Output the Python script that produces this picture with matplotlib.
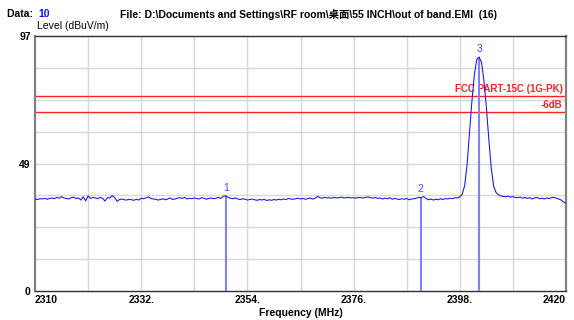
import numpy as np
import matplotlib
matplotlib.use("Agg")
import matplotlib.pyplot as plt

# ---- data ----
freq_start, freq_stop = 2310.0, 2420.0
level = [
    35.0, 34.8, 35.1, 35.0, 35.3, 34.9, 35.2, 35.4, 35.1, 35.6, 35.3, 35.9, 35.4, 35.2, 35.0, 35.5, 35.7, 35.2, 35.4, 34.6,
    35.8, 34.3, 36.2, 35.2, 35.6, 35.4, 35.1, 35.6, 35.3, 34.2, 35.5, 35.4, 36.3, 35.6, 34.1, 34.8, 35.0, 34.7, 34.6, 34.9,
    34.7, 34.5, 34.9, 34.6, 35.3, 35.1, 35.4, 35.8, 35.2, 35.0, 34.9, 34.6, 34.8, 35.1, 34.7, 35.0, 35.4, 34.8, 35.0, 35.3,
    35.5, 35.2, 35.6, 35.0, 35.3, 35.1, 35.4, 35.2, 35.0, 35.5, 35.3, 34.9, 35.2, 35.4, 35.1, 35.3, 35.6, 35.2, 36.0, 36.2,
    35.6, 35.3, 35.1, 35.4, 35.0, 34.8, 35.1, 34.9, 34.6, 34.8, 35.0, 34.7, 34.5, 34.8, 34.6, 34.9, 34.4, 34.7, 34.5, 34.8,
    34.6, 34.9, 34.7, 35.0, 34.8, 35.2, 35.0, 34.9, 35.1, 35.3, 35.0, 35.2, 34.9, 35.1, 35.4, 35.0, 35.2, 36.0, 35.5, 35.3,
    35.6, 35.4, 35.5, 35.3, 35.6, 35.4, 35.5, 35.7, 35.4, 35.5, 35.6, 35.4, 35.5, 35.3, 35.6, 35.5, 35.4, 35.6, 35.8, 35.5,
    35.3, 35.6, 35.2, 35.4, 35.0, 35.3, 35.1, 35.5, 34.9, 35.2, 35.0, 34.8, 35.1, 34.9, 35.2, 34.7, 35.0, 35.1, 35.3, 35.6,
    35.5, 35.9, 35.2, 34.7, 35.0, 34.6, 34.9, 34.7, 35.1, 34.8, 35.2, 35.0, 35.3, 35.1, 35.5, 35.4, 35.8, 36.8, 40.0, 48.0,
    60.0, 72.0, 82.0, 88.0, 89.0, 87.0, 80.0, 70.0, 58.0, 47.0, 40.0, 37.5, 36.6, 36.2, 36.0, 35.8, 36.1, 35.7, 35.9, 35.6,
    35.5, 35.7, 35.3, 35.6, 35.2, 35.5, 35.0, 35.4, 35.6, 35.1, 35.3, 35.0, 35.4, 35.2, 35.5, 35.6, 35.3, 35.0, 34.6, 33.8,
    33.4,
]
freq = np.linspace(freq_start, freq_stop, len(level))

marker_ids = ["1", "2", "3"]
marker_freq = [2349.6, 2389.9, 2402.0]
marker_level = [36.2, 35.7, 89.0]

limit_names = ["FCC PART-15C (1G-PK)", "-6dB"]
limit_levels = [74.0, 68.0]

xtick_vals = [2310, 2332, 2354, 2376, 2398, 2420]
xtick_labels = ["2310", "2332.", "2354.", "2376.", "2398.", "2420"]
ytick_vals = [0, 48.5, 97]
ytick_labels = ["0", "49", "97"]
y_min, y_max = 0, 97

# ---- figure ----
fam = ["Liberation Sans", "Noto Sans CJK SC", "DejaVu Sans"]
plt.rcParams["font.family"] = fam

fig = plt.figure(figsize=(5.74, 3.2), dpi=100)
ax = fig.add_axes([35 / 574, 1 - 291 / 320, 531 / 574, 255 / 320])

ax.set_xlim(freq_start, freq_stop)
ax.set_ylim(y_min, y_max)

# grid
for gx in np.linspace(freq_start, freq_stop, 11)[1:-1]:
    ax.axvline(gx, color="#d8d8d8", lw=1.0, zorder=0)
for gy in np.linspace(y_min, y_max, 9)[1:-1]:
    ax.axhline(gy, color="#d8d8d8", lw=1.0, zorder=0)

# limit lines
for name, lv in zip(limit_names, limit_levels):
    ax.axhline(lv, color="#ff2020", lw=1.0, zorder=2)
    ax.text(freq_stop - 0.7, lv + 1.0, name, color="#ff2020", fontsize=7,
            fontweight="bold", ha="right", va="bottom", zorder=3)

# trace
ax.plot(freq, level, color="#1010ff", lw=0.75, zorder=4)

# markers
for mid, mf, ml in zip(marker_ids, marker_freq, marker_level):
    ax.vlines(mf, 0, ml, color="#8080ff", lw=1.5, zorder=3)
    ax.annotate(mid, (mf, ml), xytext=(0, 2), textcoords="offset points",
                ha="center", va="bottom", color="#4848ff", fontsize=7.5, zorder=5)

# ticks
ax.tick_params(length=0, pad=3)
ax.set_xticks(xtick_vals)
ax.set_xticklabels(xtick_labels, fontsize=7.5, fontweight="bold")
labs = ax.get_xticklabels()
labs[0].set_horizontalalignment("left")
labs[-1].set_horizontalalignment("right")
ax.set_yticks(ytick_vals)
ax.set_yticklabels(ytick_labels, fontsize=7.5, fontweight="bold")
ax.set_xlabel("Frequency (MHz)", fontsize=7.5, fontweight="bold", labelpad=2)

for s in ["top", "bottom"]:
    ax.spines[s].set_color("#303030")
    ax.spines[s].set_linewidth(1.0)
for s in ["left", "right"]:
    ax.spines[s].set_color("#808080")
    ax.spines[s].set_linewidth(1.6)

# header texts
fig.text(7 / 574, 1 - 14 / 320, "Data: ", fontsize=7.5, fontweight="bold",
         va="center", ha="left", color="black")
fig.text(38 / 574, 1 - 14 / 320, "10", fontsize=7.5, fontweight="bold",
         va="center", ha="left", color="#1010ff")
fig.text(120 / 574, 1 - 14 / 320,
         "File: D:\\Documents and Settings\\RF room\\桌面\\55 INCH\\out of band.EMI  (16)",
         fontsize=7.5, fontweight="bold", va="center", ha="left", color="black")
fig.text(37 / 574, 1 - 26 / 320, "Level (dBuV/m)", fontsize=7.5,
         va="center", ha="left", color="black")

fig.savefig("out.png", dpi=100)
